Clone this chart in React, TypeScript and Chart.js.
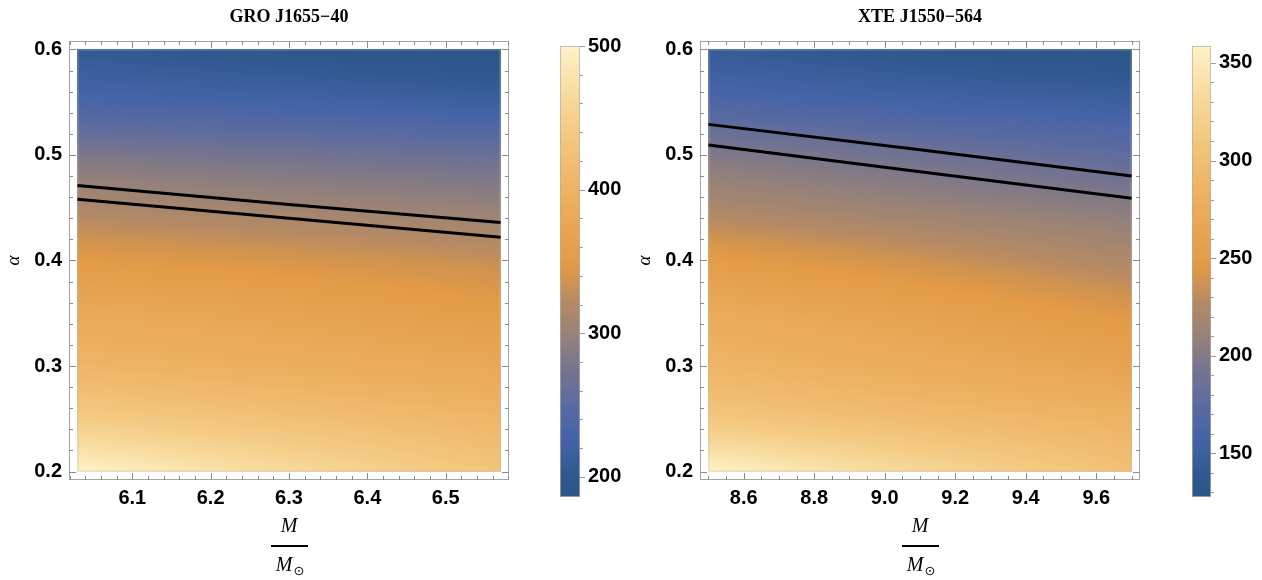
import React, { useEffect, useRef } from "react";
import { Chart, registerables } from "chart.js";
Chart.register(...registerables);

const SANS = '"Liberation Sans", Arial, sans-serif';
const SERIF = '"Liberation Serif", "Times New Roman", serif';

// ---------- colour scale (value fraction -> colour) ----------
const cmapPos = [0.0, 0.05, 0.13, 0.21, 0.28, 0.36, 0.44, 0.48, 0.52, 0.6, 0.68, 0.8, 0.9, 1.0];
const cmapHex = ["#2a5687", "#30598f", "#4563a8", "#5c6ba0", "#757490", "#978278", "#b98b62", "#d3944f", "#e39b46", "#e8a655", "#edb263", "#f3c880", "#f8dca0", "#fff2c8"];

// ---------- GRO J1655-40 ----------
const groTitle = "GRO J1655\u221240";
const groAlphaGrid = [0.6, 0.55, 0.5, 0.45, 0.4, 0.35, 0.3, 0.25, 0.2];
const groMassGrid = [6.03, 6.3, 6.57];
const groFieldMassLow = [205, 233, 280, 315, 349, 381, 406, 444, 500];
const groFieldMassMid = [195, 226, 272, 306, 340, 368, 392, 425, 465];
const groFieldMassHigh = [186, 217, 264, 298, 330, 354, 378, 406, 431];
const groLineMass = [6.03, 6.3, 6.57];
const groUpperAlpha = [0.471, 0.453, 0.436];
const groLowerAlpha = [0.458, 0.44, 0.422];
const groXTicks = [6.1, 6.2, 6.3, 6.4, 6.5];
const groXMinorStep = 0.02;
const groYTicks = [0.2, 0.3, 0.4, 0.5, 0.6];
const groYMinorStep = 0.02;
const groBarRange = [186, 500];
const groBarTicks = [200, 300, 400, 500];
const groBarMinorStep = 20;

// ---------- XTE J1550-564 ----------
const xteTitle = "XTE J1550\u2212564";
const xteAlphaGrid = [0.6, 0.55, 0.5, 0.45, 0.4, 0.35, 0.3, 0.25, 0.2];
const xteMassGrid = [8.5, 9.1, 9.7];
const xteFieldMassLow = [144, 165, 199, 222, 250, 273, 289, 313, 359];
const xteFieldMassMid = [135, 157, 189, 212, 237, 259, 276, 298, 330];
const xteFieldMassHigh = [128, 151, 178, 203, 223, 244, 262, 285, 303];
const xteLineMass = [8.5, 9.1, 9.7];
const xteUpperAlpha = [0.529, 0.505, 0.48];
const xteLowerAlpha = [0.5095, 0.484, 0.459];
const xteXTicks = [8.6, 8.8, 9.0, 9.2, 9.4, 9.6];
const xteXMinorStep = 0.05;
const xteYTicks = [0.2, 0.3, 0.4, 0.5, 0.6];
const xteYMinorStep = 0.02;
const xteBarRange = [127.5, 358.7];
const xteBarTicks = [150, 200, 250, 300, 350];
const xteBarMinorStep = 10;

function hexToRgb(h: string) {
  const n = parseInt(h.slice(1), 16);
  return [(n >> 16) & 255, (n >> 8) & 255, n & 255];
}
const cmapRgb = cmapHex.map(hexToRgb);
function cmap(f: number) {
  f = Math.max(0, Math.min(1, f));
  let i = 0;
  while (i < cmapPos.length - 2 && f > cmapPos[i + 1]) i++;
  const t = (f - cmapPos[i]) / (cmapPos[i + 1] - cmapPos[i]);
  const a = cmapRgb[i], b = cmapRgb[i + 1];
  return [a[0] + (b[0] - a[0]) * t, a[1] + (b[1] - a[1]) * t, a[2] + (b[2] - a[2]) * t];
}

// monotone cubic (Fritsch–Carlson) evaluation of a column over an arbitrary-direction grid
function monoCubic(xs: number[], ys: number[], x: number) {
  const n = xs.length;
  const dir = xs[1] > xs[0] ? 1 : -1;
  const X = xs.map((v) => v * dir), xx = x * dir;
  const d: number[] = [], m: number[] = [];
  for (let i = 0; i < n - 1; i++) d.push((ys[i + 1] - ys[i]) / (X[i + 1] - X[i]));
  m.push(d[0]);
  for (let i = 1; i < n - 1; i++) m.push(d[i - 1] * d[i] <= 0 ? 0 : (d[i - 1] + d[i]) / 2);
  m.push(d[n - 2]);
  for (let i = 0; i < n - 1; i++) {
    if (d[i] === 0) { m[i] = 0; m[i + 1] = 0; continue; }
    const a = m[i] / d[i], b = m[i + 1] / d[i], s = a * a + b * b;
    if (s > 9) { const t = 3 / Math.sqrt(s); m[i] = t * a * d[i]; m[i + 1] = t * b * d[i]; }
  }
  let k = 0;
  while (k < n - 2 && xx > X[k + 1]) k++;
  const h = X[k + 1] - X[k];
  const t = Math.max(0, Math.min(1, (xx - X[k]) / h));
  const t2 = t * t, t3 = t2 * t;
  return (2 * t3 - 3 * t2 + 1) * ys[k] + (t3 - 2 * t2 + t) * h * m[k] + (-2 * t3 + 3 * t2) * ys[k + 1] + (t3 - t2) * h * m[k + 1];
}

type Panel = {
  title: string;
  alphaGrid: number[];
  massGrid: number[];
  cols: number[][];
  lineMass: number[];
  upper: number[];
  lower: number[];
  xTicks: number[];
  xMinor: number;
  yTicks: number[];
  yMinor: number;
  barRange: number[];
  barTicks: number[];
  barMinor: number;
};

const panels: Panel[] = [
  {
    title: groTitle, alphaGrid: groAlphaGrid, massGrid: groMassGrid,
    cols: [groFieldMassLow, groFieldMassMid, groFieldMassHigh],
    lineMass: groLineMass, upper: groUpperAlpha, lower: groLowerAlpha,
    xTicks: groXTicks, xMinor: groXMinorStep, yTicks: groYTicks, yMinor: groYMinorStep,
    barRange: groBarRange, barTicks: groBarTicks, barMinor: groBarMinorStep,
  },
  {
    title: xteTitle, alphaGrid: xteAlphaGrid, massGrid: xteMassGrid,
    cols: [xteFieldMassLow, xteFieldMassMid, xteFieldMassHigh],
    lineMass: xteLineMass, upper: xteUpperAlpha, lower: xteLowerAlpha,
    xTicks: xteXTicks, xMinor: xteXMinorStep, yTicks: xteYTicks, yMinor: xteYMinorStep,
    barRange: xteBarRange, barTicks: xteBarTicks, barMinor: xteBarMinorStep,
  },
];

function minorValues(min: number, max: number, step: number) {
  const out: number[] = [];
  for (let k = Math.ceil(min / step - 1e-9); k <= Math.floor(max / step + 1e-9); k++) out.push(k * step);
  return out;
}

function makeMain(canvas: HTMLCanvasElement, p: Panel) {
  const mLo = p.massGrid[0], mHi = p.massGrid[p.massGrid.length - 1];
  const aHi = p.alphaGrid[0], aLo = p.alphaGrid[p.alphaGrid.length - 1];
  const xPad = (mHi - mLo) * 0.02, yPad = (aHi - aLo) * 0.02;
  const xMin = mLo - xPad, xMax = mHi + xPad, yMin = aLo - yPad, yMax = aHi + yPad;
  const [vLo, vHi] = p.barRange;

  const heatmap = {
    id: "heatmap",
    beforeDatasetsDraw(chart: any) {
      const { ctx, scales } = chart;
      const xs = scales.x, ys = scales.y;
      const x0 = xs.getPixelForValue(mLo), x1 = xs.getPixelForValue(mHi);
      const y0 = ys.getPixelForValue(aHi), y1 = ys.getPixelForValue(aLo);
      const dpr = chart.currentDevicePixelRatio || 1;
      const W = Math.round((x1 - x0) * dpr), H = Math.round((y1 - y0) * dpr);
      const off = document.createElement("canvas");
      off.width = W; off.height = H;
      const octx = off.getContext("2d")!;
      const img = octx.createImageData(W, H);
      const d = img.data;
      for (let j = 0; j < H; j++) {
        const a = ys.getValueForPixel(y0 + ((j + 0.5) / H) * (y1 - y0));
        const colVals = p.cols.map((c) => monoCubic(p.alphaGrid, c, a));
        for (let i = 0; i < W; i++) {
          const m = xs.getValueForPixel(x0 + ((i + 0.5) / W) * (x1 - x0));
          const v = monoCubic(p.massGrid, colVals, m);
          const c = cmap((v - vLo) / (vHi - vLo));
          const k = (j * W + i) * 4;
          d[k] = c[0]; d[k + 1] = c[1]; d[k + 2] = c[2]; d[k + 3] = 255;
        }
      }
      octx.putImageData(img, 0, 0);
      ctx.save();
      ctx.drawImage(off, x0, y0, x1 - x0, y1 - y0);
      ctx.strokeStyle = "rgba(190,190,190,0.5)";
      ctx.lineWidth = 1;
      ctx.strokeRect(x0 + 0.5, y0 + 0.5, x1 - x0 - 1, y1 - y0 - 1);
      ctx.restore();
    },
  };

  const frame = {
    id: "frame",
    afterDraw(chart: any) {
      const { ctx, chartArea: ca, scales } = chart;
      const xs = scales.x, ys = scales.y;
      ctx.save();
      ctx.strokeStyle = "#a6a6a6";
      ctx.lineWidth = 1;
      ctx.strokeRect(Math.round(ca.left) + 0.5, Math.round(ca.top) + 0.5, Math.round(ca.right - ca.left) - 1, Math.round(ca.bottom - ca.top) - 1);
      ctx.strokeStyle = "#8c8c8c";
      const isMajor = (v: number, arr: number[]) => arr.some((t) => Math.abs(t - v) < 1e-6);
      for (const v of minorValues(xMin, xMax, p.xMinor).concat(p.xTicks)) {
        const len = isMajor(v, p.xTicks) ? 7 : 4;
        const px = Math.round(xs.getPixelForValue(v)) + 0.5;
        ctx.beginPath();
        ctx.moveTo(px, ca.bottom); ctx.lineTo(px, ca.bottom - len);
        ctx.moveTo(px, ca.top); ctx.lineTo(px, ca.top + len);
        ctx.stroke();
      }
      for (const v of minorValues(yMin, yMax, p.yMinor).concat(p.yTicks)) {
        const len = isMajor(v, p.yTicks) ? 7 : 4;
        const py = Math.round(ys.getPixelForValue(v)) + 0.5;
        ctx.beginPath();
        ctx.moveTo(ca.left, py); ctx.lineTo(ca.left + len, py);
        ctx.moveTo(ca.right, py); ctx.lineTo(ca.right - len, py);
        ctx.stroke();
      }
      // title
      const cx = (ca.left + ca.right) / 2;
      ctx.fillStyle = "#000";
      ctx.textAlign = "center";
      ctx.textBaseline = "middle";
      ctx.font = `bold 18px ${SERIF}`;
      ctx.fillText(p.title, cx, 17);
      // x label: M / M_sun
      ctx.font = `italic 20px ${SERIF}`;
      ctx.fillText("M", cx, 527);
      ctx.fillRect(cx - 18, 545, 37, 2);
      ctx.fillText("M", cx - 5, 566);
      ctx.font = `13px "DejaVu Sans", sans-serif`;
      ctx.fillText("\u2299", cx + 10, 572);
      ctx.restore();
    },
  };

  const tickFont = { family: SANS, size: 20, weight: "bold" as const };
  return new Chart(canvas, {
    type: "line",
    data: {
      datasets: [
        { data: p.lineMass.map((m, i) => ({ x: m, y: p.upper[i] })), borderColor: "#000", borderWidth: 3, pointRadius: 0, tension: 0, fill: false },
        { data: p.lineMass.map((m, i) => ({ x: m, y: p.lower[i] })), borderColor: "#000", borderWidth: 3, pointRadius: 0, tension: 0, fill: false },
      ],
    },
    options: {
      animation: false,
      responsive: false,
      layout: { padding: { top: 41, right: 31, bottom: 0, left: 0 } },
      plugins: { legend: { display: false }, tooltip: { enabled: false } },
      scales: {
        x: {
          type: "linear", min: xMin, max: xMax,
          afterBuildTicks: (s: any) => { s.ticks = p.xTicks.map((v) => ({ value: v })); },
          afterFit: (s: any) => { s.height = 100; },
          grid: { display: false, drawTicks: false }, border: { display: false },
          ticks: { font: tickFont, color: "#000", padding: 6, autoSkip: false, maxRotation: 0, callback: (v: any) => Number(v).toFixed(1) },
        },
        y: {
          type: "linear", min: yMin, max: yMax,
          afterBuildTicks: (s: any) => { s.ticks = p.yTicks.map((v) => ({ value: v })); },
          afterFit: (s: any) => { s.width = 69; },
          grid: { display: false, drawTicks: false }, border: { display: false },
          ticks: { font: tickFont, color: "#000", padding: 7, autoSkip: false, callback: (v: any) => Number(v).toFixed(1) },
          title: { display: true, text: "\u03b1", color: "#000", font: { family: SERIF, size: 19, style: "italic" }, padding: { top: 3, bottom: 0 } },
        },
      },
    },
    plugins: [heatmap, frame],
  } as any);
}

function makeBar(canvas: HTMLCanvasElement, p: Panel, padLeft: number, axisWidth: number) {
  const [lo, hi] = p.barRange;
  const barTicks = {
    id: "barTicks",
    afterDraw(chart: any) {
      const { ctx, chartArea: ca, scales } = chart;
      const ys = scales.y;
      ctx.save();
      ctx.strokeStyle = "#9a9a9a";
      ctx.lineWidth = 1;
      for (const v of minorValues(lo, hi, p.barMinor)) {
        const major = p.barTicks.some((t) => Math.abs(t - v) < 1e-6);
        const py = Math.round(ys.getPixelForValue(v)) + 0.5;
        ctx.beginPath();
        ctx.moveTo(ca.right, py);
        ctx.lineTo(ca.right + (major ? 5 : 3), py);
        ctx.stroke();
      }
      ctx.restore();
    },
  };
  return new Chart(canvas, {
    type: "bar",
    data: {
      labels: [""],
      datasets: [{
        data: [[lo, hi]],
        backgroundColor: (c: any) => {
          const ch = c.chart;
          if (!ch.chartArea) return cmapHex[6];
          const ys = ch.scales.y;
          const g = ch.ctx.createLinearGradient(0, ys.getPixelForValue(lo), 0, ys.getPixelForValue(hi));
          cmapPos.forEach((pos, i) => g.addColorStop(pos, cmapHex[i]));
          return g;
        },
        borderColor: "rgba(90,75,60,0.45)",
        borderWidth: 1,
        borderSkipped: false,
        barPercentage: 1,
        categoryPercentage: 1,
      }],
    },
    options: {
      animation: false,
      responsive: false,
      layout: { padding: { top: 46, bottom: 83, left: padLeft, right: 0 } },
      plugins: { legend: { display: false }, tooltip: { enabled: false } },
      scales: {
        x: { display: false },
        y: {
          position: "right", min: lo, max: hi,
          afterBuildTicks: (s: any) => { s.ticks = p.barTicks.map((v) => ({ value: v })); },
          afterFit: (s: any) => { s.width = axisWidth; },
          grid: { display: false, drawTicks: false }, border: { display: false },
          ticks: { font: { family: SANS, size: 20, weight: "bold" }, color: "#000", padding: 8, autoSkip: false },
        },
      },
    },
    plugins: [barTicks],
  } as any);
}

export default function App() {
  const m1 = useRef<HTMLCanvasElement>(null);
  const b1 = useRef<HTMLCanvasElement>(null);
  const m2 = useRef<HTMLCanvasElement>(null);
  const b2 = useRef<HTMLCanvasElement>(null);
  useEffect(() => {
    const charts = [
      makeMain(m1.current!, panels[0]),
      makeBar(b1.current!, panels[0], 20, 60),
      makeMain(m2.current!, panels[1]),
      makeBar(b2.current!, panels[1], 21, 51),
    ];
    return () => charts.forEach((c) => c.destroy());
  }, []);
  const abs = (left: number, width: number): React.CSSProperties => ({ position: "absolute", left, top: 0, width, height: 580 });
  return (
    <div style={{ position: "absolute", left: 0, top: 0, width: 1262, height: 580, background: "#fff" }}>
      <div style={abs(0, 540)}><canvas ref={m1} width={540} height={580} style={{ width: 540, height: 580 }} /></div>
      <div style={abs(540, 100)}><canvas ref={b1} width={100} height={580} style={{ width: 100, height: 580 }} /></div>
      <div style={abs(631, 540)}><canvas ref={m2} width={540} height={580} style={{ width: 540, height: 580 }} /></div>
      <div style={abs(1171, 91)}><canvas ref={b2} width={91} height={580} style={{ width: 91, height: 580 }} /></div>
    </div>
  );
}
